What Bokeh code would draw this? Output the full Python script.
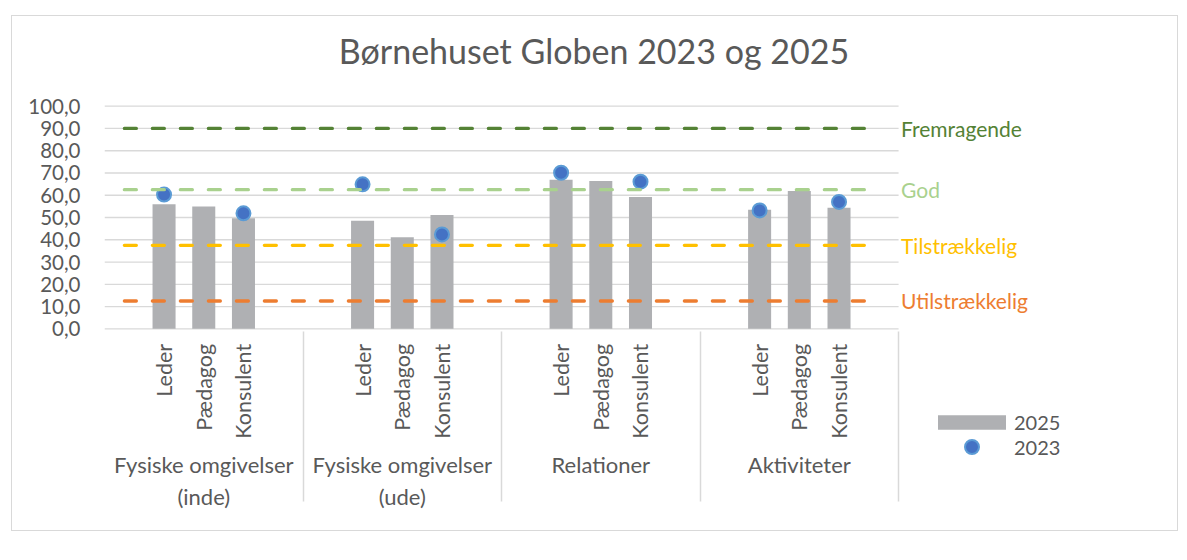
from bokeh.plotting import figure
from bokeh.models import (FactorRange, Range1d, ColumnDataSource, Legend, LegendItem,
                          Label, FixedTicker, CustomJSTickFormatter)
from bokeh.core.properties import value
from bokeh.embed import file_html
from bokeh.resources import INLINE

# ---------------- data ----------------
groups = ["Fysiske omgivelser\n(inde)", "Fysiske omgivelser\n(ude)", "Relationer", "Aktiviteter"]
roles = ["Leder", "Pædagog", "Konsulent"]
values_2025 = [56.0, 55.0, 49.7,
               48.5, 41.1, 51.1,
               67.0, 66.4, 59.2,
               53.5, 61.9, 54.4]
values_2023 = [60.3, None, 51.9,
               64.9, None, 42.4,
               70.1, None, 66.1,
               53.2, None, 57.0]
level_names = ["Fremragende", "God", "Tilstrækkelig", "Utilstrækkelig"]
level_values = [90.0, 62.5, 37.5, 12.5]
level_colors = ["#548235", "#A9D18E", "#FFC000", "#ED7D31"]
y_ticks = [0, 10, 20, 30, 40, 50, 60, 70, 80, 90, 100]
title_text = "Børnehuset Globen 2023 og 2025"
series_names = ["2025", "2023"]

FONT = "Lato"
TXT = "#595959"
GRID = "#D9D9D9"
GROUP_PAD = 2

factors = [(g, r) for g in groups for r in roles]
# blank slots to the right of the plot area (room for level names and legend)
spacer = [(" ", " " * (i + 1)) for i in range(5)]

x_range = FactorRange(*(factors + spacer), group_padding=GROUP_PAD, factor_padding=0,
                      range_padding=1, range_padding_units="absolute")

p = figure(x_range=x_range, y_range=Range1d(-91.5, 140.3), width=1167, height=516,
           output_backend="svg", toolbar_location=None,
           min_border_left=92, min_border_right=3, min_border_top=0, min_border_bottom=0)
p.margin = (15, 0, 0, 11)
p.styles = {"border": "1.5px solid #D9D9D9"}
p.outline_line_color = None
p.background_fill_color = "white"
p.border_fill_color = "white"
p.title.visible = False

# chart title
p.add_layout(Label(x=489.5, y=482.5, x_units="screen", y_units="screen", text=title_text,
                   text_align="center", text_baseline="middle", text_font=FONT,
                   text_font_size="34px", text_color=TXT))

# y axis
p.yaxis.ticker = FixedTicker(ticks=y_ticks)
p.yaxis.formatter = CustomJSTickFormatter(code="return tick.toFixed(1).replace('.', ',');")
p.yaxis.axis_line_color = None
p.yaxis.major_tick_line_color = None
p.yaxis.minor_tick_line_color = None
p.yaxis.major_label_standoff = 18
p.yaxis.major_label_text_font = FONT
p.yaxis.major_label_text_font_size = "20.5px"
p.yaxis.major_label_text_color = TXT
p.grid.grid_line_color = None

# horizontal gridlines over the plot area only
x_left = (groups[0], roles[0], -1.5)
x_right = (groups[-1], roles[-1], 1.5)
p.segment(x0=[x_left] * len(y_ticks), x1=[x_right] * len(y_ticks), y0=y_ticks, y1=y_ticks,
          line_color=GRID, line_width=1.3)

# x axis at y = 0
ax = p.xaxis[0]
ax.fixed_location = 0
ax.axis_line_color = None
ax.major_tick_line_color = None
ax.minor_tick_line_color = None
ax.major_label_orientation = 1.5707963
ax.major_label_standoff = 9
ax.major_label_text_font = FONT
ax.major_label_text_font_size = "21.5px"
ax.major_label_text_color = TXT
ax.group_text_font = FONT
ax.group_text_font_size = "22px"
ax.group_text_color = TXT
ax.group_text_font_style = "normal"
props = ax.properties()
if "separator_line_color" in props:
    ax.separator_line_color = GRID
    ax.separator_line_width = 1.5

# bars
src25 = ColumnDataSource(dict(x=factors, v=values_2025))
bars = p.vbar(x="x", top="v", width=0.58, source=src25,
              fill_color="#AFB0B3", line_color=None)

# dots
x23 = [f for f, v in zip(factors, values_2023) if v is not None]
v23 = [v for v in values_2023 if v is not None]
src23 = ColumnDataSource(dict(x=x23, v=v23))
dots = p.scatter(x="x", y="v", source=src23, size=14, fill_color="#4472C4",
                 line_color="#5B9BD5", line_width=2)

# reference levels (dashed lines) and their names
x_start = (groups[0], roles[0], -1.0)
x_end = (groups[-1], roles[-1], 1.0)
for val, col in zip(level_values, level_colors):
    p.line(x=[x_start, x_end], y=[val, val], line_color=col, line_width=3.3,
           line_dash="12 16", line_cap="round")

lvl_src = ColumnDataSource(dict(x=[factors[-1]] * len(level_values), y=level_values,
                                text=level_names, color=level_colors))
p.text(x="x", y="y", text="text", source=lvl_src, x_offset=62, text_color="color",
       text_align="left", text_baseline="middle", text_font=value(FONT),
       text_font_size=value("21px"))

# legends
common = dict(padding=0, margin=0, spacing=0, label_standoff=0,
              border_line_color=None, background_fill_alpha=0,
              label_text_font=FONT, label_text_font_size="20px", label_text_color=TXT)
leg1 = Legend(items=[LegendItem(label=series_names[0], renderers=[bars])],
              location=(825, 98), glyph_width=85, glyph_height=18, label_height=18,
              **common)
leg2 = Legend(items=[LegendItem(label=series_names[1], renderers=[dots])],
              location=(825, 68), glyph_width=85, glyph_height=35, label_height=35,
              **common)
p.add_layout(leg1)
p.add_layout(leg2)

open("out.html", "w").write(file_html(p, INLINE))
